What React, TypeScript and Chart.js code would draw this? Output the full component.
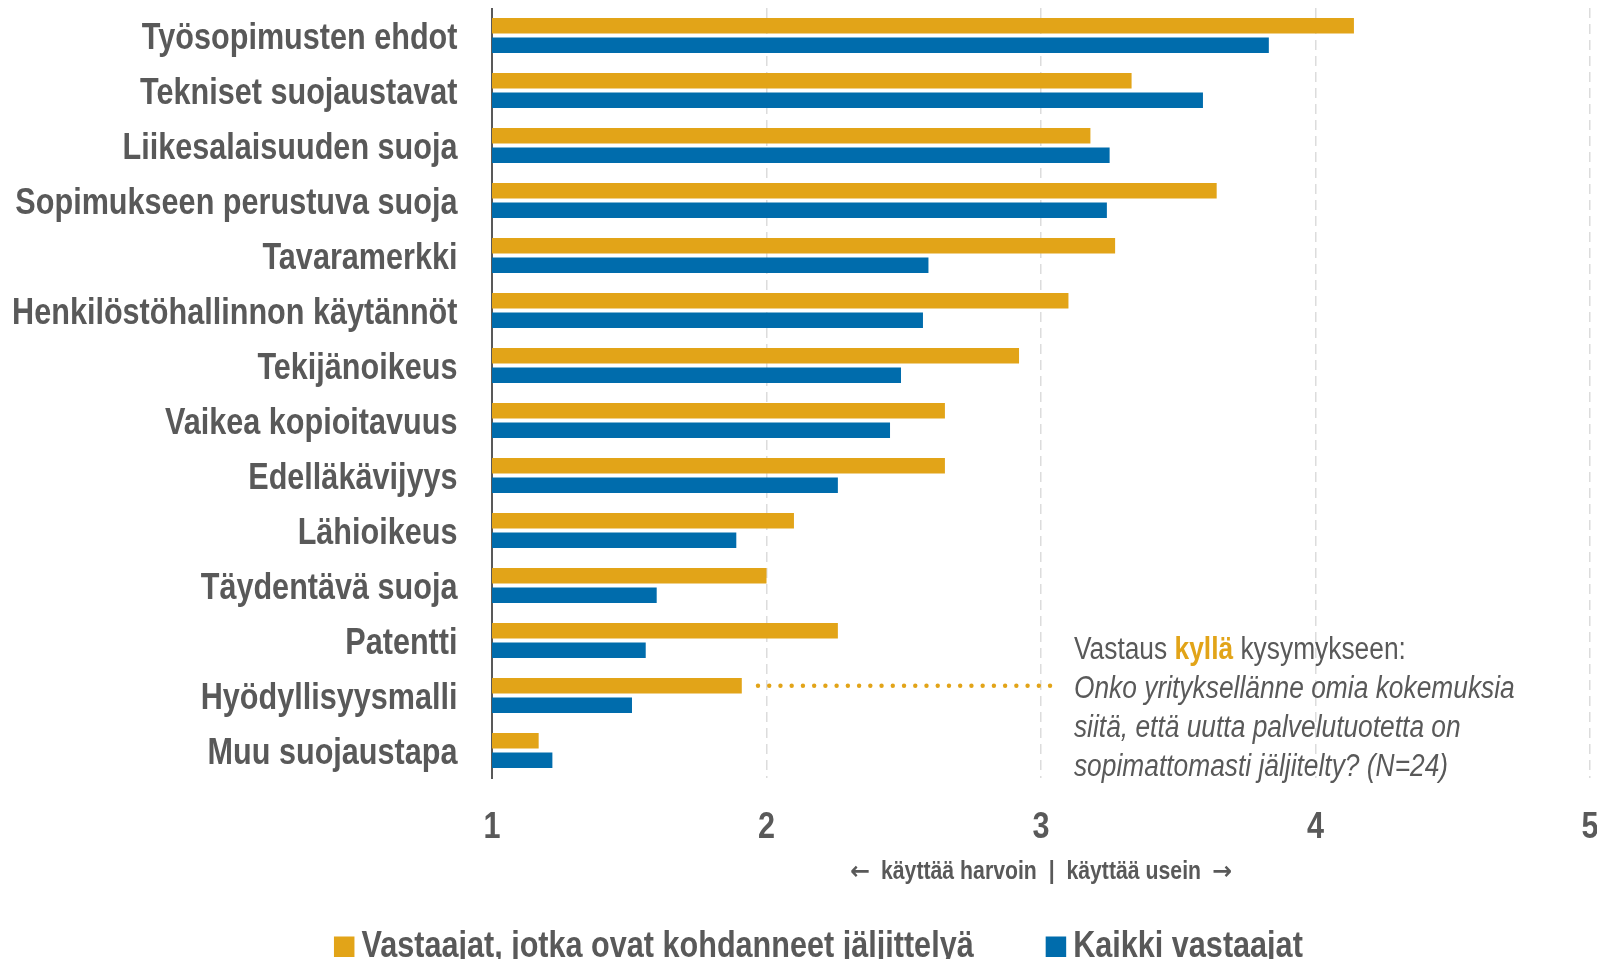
import React, { useEffect, useRef } from "react";
import { Chart, registerables } from "chart.js";

Chart.register(...registerables);

const categories = [
  "Työsopimusten ehdot",
  "Tekniset suojaustavat",
  "Liikesalaisuuden suoja",
  "Sopimukseen perustuva suoja",
  "Tavaramerkki",
  "Henkilöstöhallinnon käytännöt",
  "Tekijänoikeus",
  "Vaikea kopioitavuus",
  "Edelläkävijyys",
  "Lähioikeus",
  "Täydentävä suoja",
  "Patentti",
  "Hyödyllisyysmalli",
  "Muu suojaustapa",
];

const copiedValues = [4.14, 3.33, 3.18, 3.64, 3.27, 3.1, 2.92, 2.65, 2.65, 2.1, 2.0, 2.26, 1.91, 1.17];
const allValues = [3.83, 3.59, 3.25, 3.24, 2.59, 2.57, 2.49, 2.45, 2.26, 1.89, 1.6, 1.56, 1.51, 1.22];

const seriesNames = ["Vastaajat, jotka ovat kohdanneet jäljittelyä", "Kaikki vastaajat"];
const xTicks = [1, 2, 3, 4, 5];
const axisTitleParts = ["←", " käyttää harvoin  |  käyttää usein ", "→"];

const noteCategory = "Hyödyllisyysmalli";
const noteDotsFrom = 1.969;
const noteDotsTo = 3.033;
const noteTextAt = 3.12;
const noteHead = ["Vastaus ", "kyllä", " kysymykseen:"];
const noteLines = [
  "Onko yrityksellänne omia kokemuksia",
  "siitä, että uutta palvelutuotetta on",
  "sopimattomasti jäljitelty? (N=24)",
];

const ORANGE = "#E2A418";
const BLUE = "#006CAC";
const GRAY = "#595959";
const FAMILY = '"Liberation Sans", Arial, sans-serif';
const ARROW_FAMILY = '"DejaVu Sans", sans-serif';
const NARROW = 0.85;

function narrowText(
  ctx: CanvasRenderingContext2D,
  text: string,
  x: number,
  y: number,
  size: number,
  style: string,
  color: string,
  align: "left" | "right" | "center" = "left",
  family: string = FAMILY,
  sx: number = NARROW,
  baseline: "middle" | "alphabetic" = "middle"
): number {
  ctx.save();
  ctx.font = `${style} ${size}px ${family}`;
  ctx.fillStyle = color;
  ctx.textBaseline = baseline;
  ctx.textAlign = "left";
  const w = ctx.measureText(text).width * sx;
  let px = x;
  if (align === "right") px = x - w;
  else if (align === "center") px = x - w / 2;
  ctx.translate(px, baseline === "middle" ? y + size * 0.1 : y);
  ctx.scale(sx, 1);
  ctx.fillText(text, 0, 0);
  ctx.restore();
  return w;
}

function textWidth(ctx: CanvasRenderingContext2D, text: string, font: string, sx: number = NARROW) {
  ctx.save();
  ctx.font = font;
  const w = ctx.measureText(text).width * sx;
  ctx.restore();
  return w;
}

const labelsPlugin = {
  id: "labelsPlugin",
  afterDraw(chart: any) {
    const { ctx, chartArea } = chart;
    const x = chart.scales.x;
    const y = chart.scales.y;
    // category labels
    categories.forEach((c, i) => {
      narrowText(ctx, c, chartArea.left - 34.5, y.getPixelForValue(i), 36, "bold", GRAY, "right");
    });
    // x tick labels
    xTicks.forEach((v) => {
      narrowText(ctx, String(v), x.getPixelForValue(v), chartArea.bottom + 46, 36, "bold", GRAY, "center");
    });
    // axis title (arrows in a font with heavier arrow glyphs)
    const ty = chartArea.bottom + 92;
    const tSize = 25;
    const partFont = (i: number) =>
      i === 1 ? `bold ${tSize}px ${FAMILY}` : `bold ${tSize}px ${ARROW_FAMILY}`;
    const partSx = (i: number) => (i === 1 ? NARROW : 0.95);
    const widths = axisTitleParts.map((p, i) => textWidth(ctx, p, partFont(i), partSx(i)));
    const tw = widths.reduce((a, b) => a + b, 0) + 10;
    let tx = (chartArea.left + chartArea.right) / 2 - tw / 2;
    axisTitleParts.forEach((p, i) => {
      narrowText(ctx, p, tx, ty, tSize, "bold", GRAY, "left", i === 1 ? FAMILY : ARROW_FAMILY, partSx(i));
      tx += widths[i] + 5;
    });
    // legend
    const baseY = chartArea.bottom + 179;
    const box = 20.5;
    const gapBT = 7;
    const gapItems = 72;
    const colors = [ORANGE, BLUE];
    const widthsL = seriesNames.map((s) => textWidth(ctx, s, `bold 36px ${FAMILY}`));
    const total = widthsL.reduce((a, w) => a + box + gapBT + w, 0) + gapItems * (seriesNames.length - 1);
    let lx = chart.width * 0.51 - total / 2;
    seriesNames.forEach((s, i) => {
      ctx.save();
      ctx.fillStyle = colors[i];
      ctx.fillRect(lx, baseY - box, box, box);
      ctx.restore();
      lx += box + gapBT;
      narrowText(ctx, s, lx, baseY, 36, "bold", GRAY, "left", FAMILY, NARROW, "alphabetic");
      lx += widthsL[i] + gapItems;
    });
  },
};

const notePlugin = {
  id: "notePlugin",
  afterDatasetsDraw(chart: any) {
    const { ctx } = chart;
    const x = chart.scales.x;
    const meta = chart.getDatasetMeta(0);
    const idx = categories.indexOf(noteCategory);
    const bar: any = meta.data[idx];
    if (!bar) return;
    const y = bar.y;
    ctx.save();
    ctx.fillStyle = ORANGE;
    const x0 = x.getPixelForValue(noteDotsFrom);
    const x1 = x.getPixelForValue(noteDotsTo);
    const n = 27;
    const step = (x1 - x0) / (n - 1);
    for (let i = 0; i < n; i++) {
      ctx.beginPath();
      ctx.arc(x0 + i * step, y, 2.2, 0, Math.PI * 2);
      ctx.fill();
    }
    ctx.restore();
    const tx = x.getPixelForValue(noteTextAt);
    const lh = 39;
    const ty = y + 1;
    let cx = tx;
    noteHead.forEach((part, i) => {
      const bold = i === 1;
      cx += narrowText(ctx, part, cx, ty - lh, 31, bold ? "bold" : "normal", bold ? ORANGE : GRAY, "left");
    });
    noteLines.forEach((line, i) => {
      narrowText(ctx, line, tx, ty + i * lh, 31, "italic", GRAY, "left");
    });
  },
};

export default function App() {
  const ref = useRef<HTMLCanvasElement | null>(null);
  useEffect(() => {
    if (!ref.current) return;
    const chart = new Chart(ref.current, {
      type: "bar",
      data: {
        labels: categories,
        datasets: [
          {
            label: seriesNames[0],
            data: copiedValues,
            backgroundColor: ORANGE,
            borderWidth: 0,
            categoryPercentage: 0.708,
            barPercentage: 0.79,
          },
          {
            label: seriesNames[1],
            data: allValues,
            backgroundColor: BLUE,
            borderWidth: 0,
            categoryPercentage: 0.708,
            barPercentage: 0.79,
          },
        ],
      },
      options: {
        indexAxis: "y",
        responsive: false,
        animation: false,
        layout: { autoPadding: false, padding: { left: 0, right: 7, top: 0, bottom: 0 } },
        plugins: {
          tooltip: { enabled: false },
          legend: { display: false },
        },
        scales: {
          x: {
            type: "linear",
            min: 1,
            max: 5,
            afterBuildTicks: (s: any) => {
              s.ticks = xTicks.map((v) => ({ value: v }));
            },
            afterFit: (s: any) => {
              s.height = 189;
            },
            ticks: { display: false },
            grid: {
              color: "#DCDCDC",
              lineWidth: 1.5,
              drawTicks: false,
            },
            border: { display: false, dash: [10, 6] },
          },
          y: {
            afterFit: (s: any) => {
              s.width = 484;
            },
            ticks: { display: false },
            grid: { display: false, drawTicks: false },
            border: { display: true, color: GRAY, width: 2 },
          },
        },
      },
      plugins: [notePlugin, labelsPlugin],
    });
    return () => chart.destroy();
  }, []);
  return (
    <div style={{ width: 1589, height: 951 }}>
      <canvas ref={ref} width={1589} height={959} style={{ display: "block", marginBottom: -8 }} />
    </div>
  );
}
